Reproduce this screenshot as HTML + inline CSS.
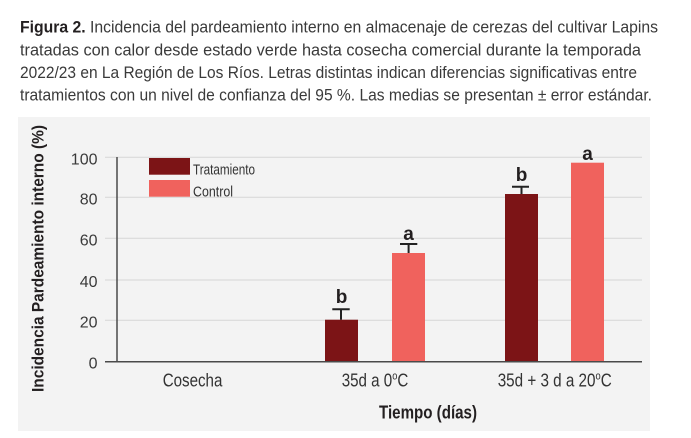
<!DOCTYPE html>
<html>
<head>
<meta charset="utf-8">
<style>
  html,body{margin:0;padding:0;background:#fff;}
  svg{display:block;}
  text{font-family:"Liberation Sans","DejaVu Sans",sans-serif;}
</style>
</head>
<body>
<svg width="691" height="438" viewBox="0 0 691 438" xmlns="http://www.w3.org/2000/svg">
  <rect x="0" y="0" width="691" height="438" fill="#ffffff"/>
  <!-- Caption -->
  <g font-size="17" fill="#3a3a3a">
    <text x="20" y="32.5" textLength="638" lengthAdjust="spacingAndGlyphs"><tspan font-weight="bold" fill="#231f20">Figura 2.</tspan> Incidencia del pardeamiento interno en almacenaje de cerezas del cultivar Lapins</text>
    <text x="20" y="55.3" textLength="621" lengthAdjust="spacingAndGlyphs">tratadas con calor desde estado verde hasta cosecha comercial durante la temporada</text>
    <text x="20" y="77.9" textLength="617" lengthAdjust="spacingAndGlyphs">2022/23 en La Región de Los Ríos. Letras distintas indican diferencias significativas entre</text>
    <text x="20" y="100.5" textLength="632" lengthAdjust="spacingAndGlyphs">tratamientos con un nivel de confianza del 95 %. Las medias se presentan ± error estándar.</text>
  </g>

  <!-- Panel -->
  <rect x="18" y="117" width="632" height="314" fill="#f3f3f3"/>

  <!-- Gridlines -->
  <g stroke="#dadada" stroke-width="1.2">
    <line x1="105" y1="157.3" x2="642" y2="157.3"/>
    <line x1="105" y1="197.3" x2="642" y2="197.3"/>
    <line x1="105" y1="238.3" x2="642" y2="238.3"/>
    <line x1="105" y1="280" x2="642" y2="280"/>
    <line x1="105" y1="320.3" x2="642" y2="320.3"/>
  </g>

  <!-- Y tick labels -->
  <g font-size="16" fill="#3a3a3a" text-anchor="end">
    <text x="97.5" y="164.3">100</text>
    <text x="97.5" y="204.3">80</text>
    <text x="97.5" y="245.3">60</text>
    <text x="97.5" y="287">40</text>
    <text x="97.5" y="327.3">20</text>
    <text x="97.5" y="368.7">0</text>
  </g>

  <!-- Bars -->
  <rect x="325" y="319.7" width="33" height="42" fill="#7c1416"/>
  <rect x="392" y="253" width="33" height="108.7" fill="#f0625d"/>
  <rect x="505" y="194" width="33" height="167.7" fill="#7c1416"/>
  <rect x="571" y="162.7" width="33" height="199" fill="#f0625d"/>

  <!-- Error bars -->
  <g stroke="#222" stroke-width="2">
    <line x1="341" y1="309.3" x2="341" y2="319.7"/>
    <line x1="332.3" y1="309.3" x2="349.7" y2="309.3"/>
    <line x1="408.6" y1="244" x2="408.6" y2="253"/>
    <line x1="400" y1="244" x2="417.3" y2="244"/>
    <line x1="521.5" y1="186.7" x2="521.5" y2="194"/>
    <line x1="512" y1="186.7" x2="529" y2="186.7"/>
  </g>

  <!-- Significance letters -->
  <g font-size="19" font-weight="bold" fill="#231f20" text-anchor="middle">
    <text x="341.5" y="302.8">b</text>
    <text x="408.6" y="239.8">a</text>
    <text x="521.5" y="181">b</text>
    <text x="587.5" y="159.8">a</text>
  </g>

  <!-- Axes -->
  <line x1="117" y1="157" x2="117" y2="362" stroke="#4a4a4a" stroke-width="1.5"/>
  <line x1="105" y1="361.7" x2="642" y2="361.7" stroke="#4a4a4a" stroke-width="1.5"/>

  <!-- Legend -->
  <rect x="149" y="158" width="41" height="16.7" fill="#7c1416"/>
  <rect x="149" y="180" width="41" height="16.7" fill="#f0625d"/>
  <g font-size="14.5" fill="#333">
    <text x="193" y="174.7" textLength="62" lengthAdjust="spacingAndGlyphs">Tratamiento</text>
    <text x="193" y="196.7" textLength="40" lengthAdjust="spacingAndGlyphs">Control</text>
  </g>

  <!-- X labels -->
  <g font-size="18" fill="#333">
    <text x="162.7" y="386.7" textLength="59.7" lengthAdjust="spacingAndGlyphs">Cosecha</text>
    <text x="341.7" y="386.7" textLength="66.6" lengthAdjust="spacingAndGlyphs">35d a 0<tspan font-size="11" dy="-7">o</tspan><tspan dy="7">C</tspan></text>
    <text x="497.7" y="386.7" textLength="114" lengthAdjust="spacingAndGlyphs">35d + 3 d a 20<tspan font-size="11" dy="-7">o</tspan><tspan dy="7">C</tspan></text>
  </g>

  <!-- Axis titles -->
  <text x="379" y="418.3" font-size="18" font-weight="bold" fill="#231f20" textLength="98" lengthAdjust="spacingAndGlyphs">Tiempo (días)</text>
  <text x="0" y="0" font-size="17" font-weight="bold" fill="#231f20" textLength="267" lengthAdjust="spacingAndGlyphs" transform="translate(43.5,392) rotate(-90)">Incidencia Pardeamiento interno (%)</text>
</svg>
</body>
</html>
